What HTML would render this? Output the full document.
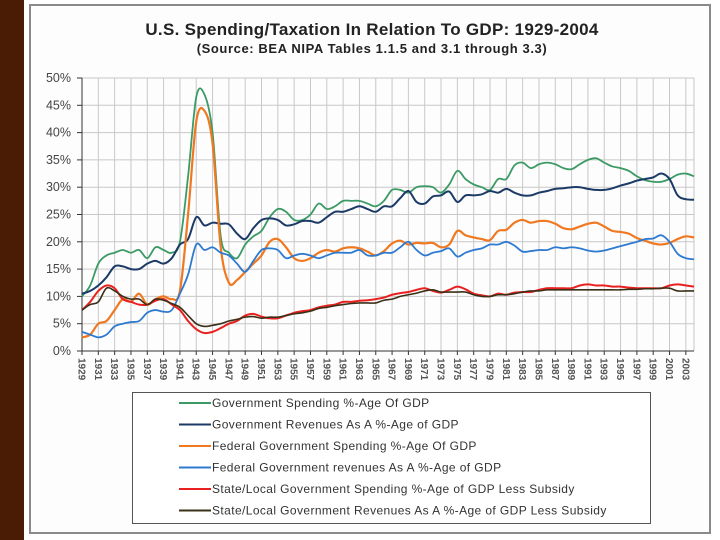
<!DOCTYPE html>
<html><head><meta charset="utf-8"><style>
html,body{margin:0;padding:0;width:720px;height:540px;overflow:hidden;background:#fff;font-family:"Liberation Sans",sans-serif}
#strip{position:absolute;left:0;top:0;width:24px;height:540px;background:#4a1c06}
#panel{position:absolute;left:29px;top:4px;width:682px;height:530px;border:2px solid #8a8a8a;background:#fdfdfd;box-sizing:border-box}
svg{position:absolute;left:0;top:0}
</style></head><body>
<div id="strip"></div>
<div id="panel"></div>
<svg id="chart" width="720" height="540"></svg>
<script>
const years=[];for(let y=1929;y<=2004;y++)years.push(y);
const govSpend=[10,12,16,17.5,18,18.5,18,18.5,17,19,18.5,18,20,32,46.5,47,40,21,18,17,19.5,21,22,24.5,26,25.5,24,24,25,27,26,26.5,27.5,27.5,27.5,27,26.5,27.5,29.5,29.5,29,30,30.2,30,29,30.5,33,31.5,30.5,30,29.5,31.5,31.5,34,34.5,33.5,34.2,34.5,34.2,33.5,33.3,34.2,35,35.3,34.5,33.8,33.5,33,32,31.3,31,31,31.5,32.3,32.5,32];
const govRev=[10.5,11,12,13.5,15.5,15.5,15,15,16,16.5,16,17,19.5,20.5,24.5,23,23.5,23.3,23.2,21.5,20.5,22.5,24,24.3,24,23,23.2,23.8,23.8,23.5,24.5,25.5,25.5,26,26.5,26,25.5,26.5,26.5,28,29.3,27.3,27,28.3,28.5,29.2,27.3,28.5,28.5,28.7,29.3,29,29.7,29,28.5,28.5,29,29.3,29.7,29.8,30,30,29.7,29.5,29.5,29.8,30.3,30.7,31.2,31.5,31.8,32.5,31.5,28.5,27.8,27.7];
const fedSpend=[2.5,3,5,5.5,7.5,9.5,9,10.5,8.5,9.5,10,9.5,11,25,42,44,38,19,12.5,13,14.5,16,17.5,20,20.5,19,17,16.5,17,18,18.5,18.2,18.8,19,18.8,18.2,17.5,18.3,19.7,20.2,19.5,19.8,19.7,19.8,19,19.5,22,21.2,20.8,20.5,20.3,22,22.2,23.5,24,23.5,23.8,23.8,23.3,22.5,22.3,22.8,23.3,23.5,22.8,22,21.8,21.5,20.7,20.2,19.7,19.5,19.8,20.5,21,20.8];
const fedRev=[3.5,3,2.5,3,4.5,5,5.3,5.5,7,7.5,7.2,7.5,10.5,14,19.5,18.5,19,18,17.5,16,14.5,16.5,18.5,18.8,18.5,17,17.5,17.8,17.5,17,17.5,18,18,18,18.5,17.5,17.5,18,18,19,20,18.5,17.5,18,18.3,18.8,17.3,18,18.5,18.8,19.5,19.5,20,19.3,18.2,18.3,18.5,18.5,19,18.8,19,18.8,18.4,18.2,18.4,18.8,19.2,19.6,20,20.5,20.6,21.2,20,17.8,17,16.8];
const slSpend=[7.5,9,11,12,11.5,9.5,9,8.5,8.5,9.2,9.5,8.5,7.5,5.5,4,3.3,3.5,4.2,5,5.5,6.5,6.8,6.3,6,6,6.5,7,7.3,7.5,8,8.3,8.5,9,9,9.2,9.3,9.5,9.8,10.3,10.6,10.8,11.2,11.5,11,10.7,11.2,11.8,11.3,10.5,10.2,10,10.5,10.3,10.7,10.8,10.8,11.2,11.5,11.5,11.5,11.5,12,12.2,12,12,11.8,11.8,11.6,11.5,11.5,11.5,11.5,12,12.2,12,11.8];
const slRev=[7.5,8.5,9,11.5,11,10,9.5,9.5,8.5,9.5,9.3,8.7,8,6.5,5,4.5,4.7,5,5.5,5.8,6.2,6.3,6,6.2,6.2,6.5,6.8,7,7.3,7.8,8,8.3,8.5,8.7,8.8,8.8,8.8,9.3,9.5,10,10.3,10.6,11,11.2,10.8,10.8,10.8,10.8,10.3,10,10,10.3,10.3,10.5,10.8,11,11,11.2,11.2,11.2,11.2,11.2,11.2,11.2,11.2,11.2,11.2,11.3,11.3,11.4,11.4,11.5,11.5,11,11,11];
const yTicks=[0,5,10,15,20,25,30,35,40,45,50];
const seriesNames=["Government Spending %-Age Of GDP","Government Revenues As A %-Age of GDP","Federal Government Spending %-Age Of GDP","Federal Government revenues As A %-Age of GDP","State/Local Government Spending %-Age of GDP Less Subsidy","State/Local Government Revenues As A %-Age of GDP Less Subsidy"];

const NS="http://www.w3.org/2000/svg";
const svg=document.getElementById('chart');
const X0=82,X1=694,Y0=351,Y1=78;
const xs=y=>X0+(y-1929)*(X1-X0)/(2004-1929);
const ys=v=>Y0-v*(Y0-Y1)/50;
function mk(tag,attrs,parent){const e=document.createElementNS(NS,tag);for(const k in attrs)e.setAttribute(k,attrs[k]);(parent||svg).appendChild(e);return e;}

let t=mk('text',{x:372,y:35,'text-anchor':'middle','font-size':'17','font-weight':'bold',fill:'#222','letter-spacing':'0.3'});
t.textContent="U.S. Spending/Taxation In Relation To GDP:  1929-2004";


t=mk('text',{x:372,y:53,'text-anchor':'middle','font-size':'13','font-weight':'bold',fill:'#222','letter-spacing':'0.6'});
t.textContent="(Source:  BEA NIPA Tables 1.1.5 and 3.1 through 3.3)";



yTicks.forEach(v=>{
  const l=mk('line',{x1:X0,x2:X1,y1:ys(v),y2:ys(v),stroke:'#c8c8c8','stroke-width':1});
  
  
  const tx=mk('text',{x:X0-11,y:ys(v)+4,'text-anchor':'end','font-size':'12.5',fill:'#444'});
  tx.textContent=v+'%';
  
  
  mk('line',{x1:X0-5,x2:X0,y1:ys(v),y2:ys(v),stroke:'#333'});
});
years.forEach(y=>{
  if((y-1929)%2)return;
  const l=mk('line',{x1:xs(y),x2:xs(y),y1:Y1,y2:Y0,stroke:'#c8c8c8','stroke-width':1});
  
  
  mk('line',{x1:xs(y),x2:xs(y),y1:Y0,y2:Y0+4,stroke:'#333'});
  const tx=mk('text',{x:0,y:0,'font-size':'10','font-weight':'bold',fill:'#555',transform:`translate(${xs(y)-3.5},${Y0+7}) rotate(90)`});
  tx.textContent=y;
  
  
});
mk('line',{x1:X1,x2:X1,y1:Y1,y2:Y0,stroke:'#c8c8c8'});
mk('line',{x1:X0,x2:X0,y1:Y1,y2:Y0,stroke:'#333'});
mk('line',{x1:X0,x2:X1,y1:Y0,y2:Y0,stroke:'#333'});

function path(vals){
  const p=vals.map((v,i)=>[xs(years[i]),ys(v)]);
  let d=`M${p[0][0]},${p[0][1]}`;
  for(let i=0;i<p.length-1;i++){
    const a=p[Math.max(i-1,0)],b=p[i],c=p[i+1],e=p[Math.min(i+2,p.length-1)];
    d+=` C${b[0]+(c[0]-a[0])/6},${b[1]+(c[1]-a[1])/6} ${c[0]-(e[0]-b[0])/6},${c[1]-(e[1]-b[1])/6} ${c[0]},${c[1]}`;
  }
  return d;
}
const series=[[govSpend,'#3c9a64',1.8,'line-government-spending'],[govRev,'#1c3a66',2,'line-government-revenues'],[fedSpend,'#f07820',2.2,'line-federal-spending'],[fedRev,'#2e7ad0',1.8,'line-federal-revenues'],[slSpend,'#e82020',2,'line-state-local-spending'],[slRev,'#3a3018',1.6,'line-state-local-revenues']];
series.forEach(s=>{
  const p=mk('path',{d:path(s[0]),fill:'none',stroke:s[1],'stroke-width':s[2],'stroke-linejoin':'round'});
  
  
});

const lg=mk('rect',{x:132.5,y:392.5,width:518,height:131,fill:'#fff',stroke:'#555','stroke-width':1});


seriesNames.forEach((n,i)=>{
  const y=403+i*21.5;
  const g=mk('g',{});
  
  
  mk('line',{x1:179,x2:211,y1:y,y2:y,stroke:series[i][1],'stroke-width':2},g);
  const tx=mk('text',{x:212,y:y+4,'font-size':'12',fill:'#333','letter-spacing':'0.4'},g);
  tx.textContent=n;
});
</script>
</body></html>
